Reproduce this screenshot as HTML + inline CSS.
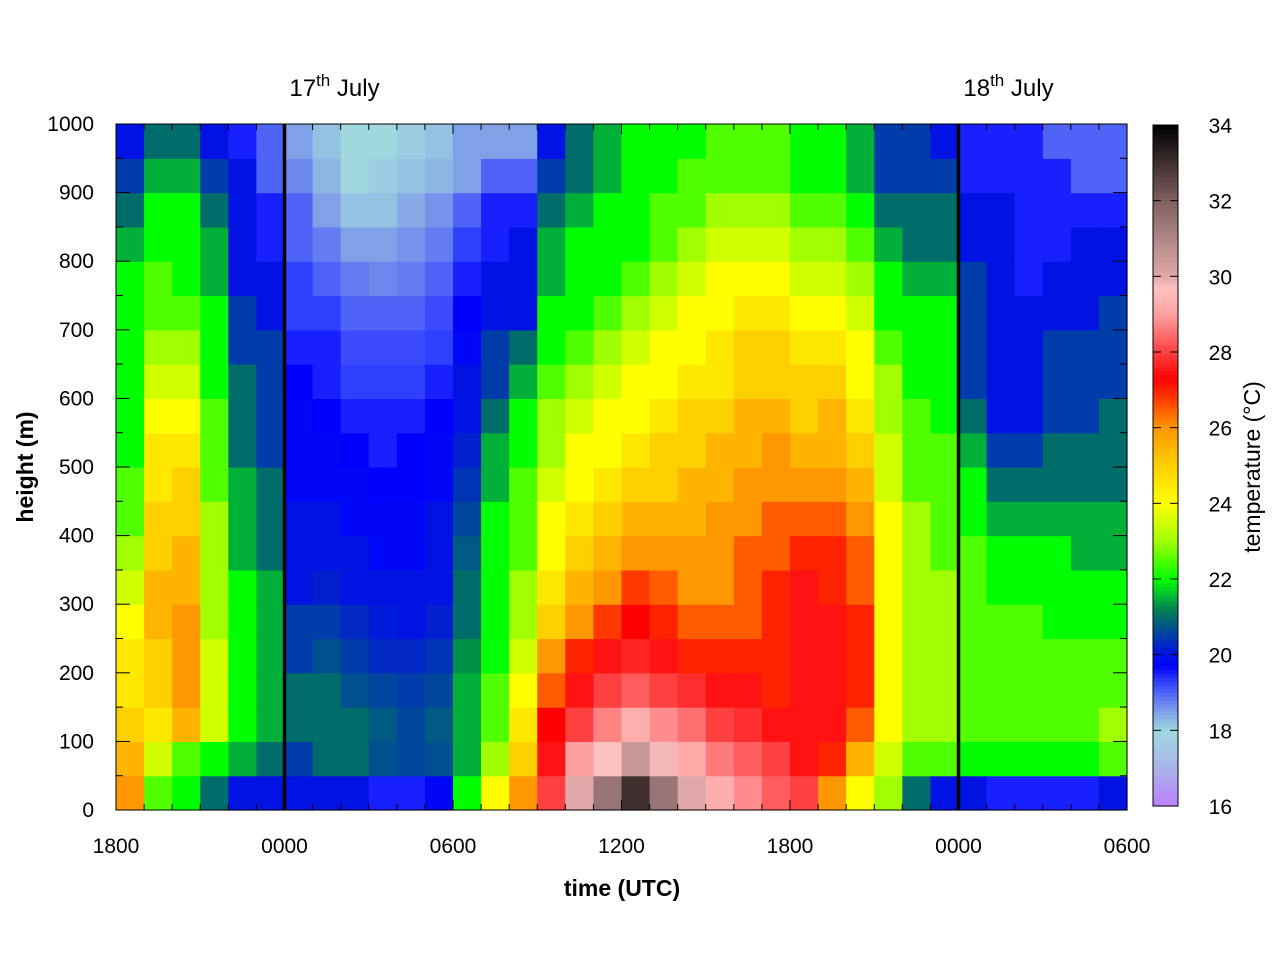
<!DOCTYPE html>
<html><head><meta charset="utf-8"><style>body{margin:0;background:#fff}svg text{font-family:"Liberation Sans",sans-serif}</style></head>
<body>
<svg id="chart" width="1280" height="960" xmlns="http://www.w3.org/2000/svg">
<rect width="1280" height="960" fill="#fff"/>
<g id="cells"></g>
<g id="axes"></g>
</svg>
<script>
const timeLabels=["1800","0000","0600","1200","1800","0000","0600"];
const heightTicks=[0,100,200,300,400,500,600,700,800,900,1000];
const cbarTicks=[16,18,20,22,24,26,28,30,32,34];
const dayLabels=["17","18"];
const dayHours=[6,30];
// temperature profiles per hourly column (from 1800 16 July), heights 25..975 m step 50
const c00=[26,25.5,25,24.5,24.5,24,23.5,23,22.5,22.5,22,22,22,22,22,22,21.5,21,20.5,20];
const c01=[22.5,23.5,24.5,25,25,25.5,25.5,25,25,24.5,24.5,24,23.5,23,22.5,22.5,22,22,21.5,21];
const c02=[22,22.5,25.5,26,26,26,25.5,25.5,25,25,24.5,24,23.5,23,22.5,22,22,22,21.5,21];
const c03=[21,22,23.5,23.5,23.5,23,23,23,23,22.5,22.5,22.5,22,22,22,21.5,21.5,21,20.5,20];
const c04=[20,21.5,22,22,22,22,22,21.5,21.5,21.5,21,21,21,20.5,20.5,20,20,20,20,19.5];
const c05=[20,21,21.5,21.5,21.5,21.5,21.5,21,21,21,20.5,20.5,20.5,20.5,20,20,19.5,19.5,19,19];
const c06=[20,20.5,21,21,20.5,20.5,20,20,20,19.8,19.8,19.8,19.7,19.5,19.3,19.3,19,19,18.7,18.5];
const c07=[20,21,21,21,20.7,20.5,20.2,20,20,19.8,19.8,19.7,19.5,19.5,19.3,19,18.8,18.5,18.3,18.2];
const c08=[20,21,21,20.7,20.5,20.3,20,20,19.8,19.8,19.7,19.5,19.3,19.2,19,18.8,18.5,18.2,18,18];
const c09=[19.5,20.7,20.8,20.6,20.3,20.1,20,19.8,19.8,19.7,19.5,19.5,19.3,19.2,19,18.7,18.5,18.2,18.1,18];
const c10=[19.5,20.6,20.6,20.5,20.3,20,20,19.8,19.8,19.7,19.7,19.5,19.3,19.2,19,18.8,18.6,18.4,18.2,18.1];
const c11=[19.8,20.7,20.8,20.6,20.4,20.2,20,20,20,19.8,19.8,19.7,19.5,19.3,19.2,19,18.8,18.6,18.3,18.2];
const c12=[22,21.5,21.5,21.5,21.3,21,21,20.8,20.6,20.4,20.2,20,20,19.8,19.7,19.5,19.3,19,18.5,18.5];
const c13=[24,23,22.5,22.5,22,22,22,22,22,21.5,21.5,21,20.5,20.5,20,20,19.5,19.5,19,18.5];
const c14=[26,25,24.5,24,23.5,23,23,22.5,22.5,22.5,22,22,21.5,21,20,20,20,19.5,19,18.5];
const c15=[28,27.5,27.3,26.5,26,25,24.5,24,24,23.5,23,23,22.5,22,22,21.5,21.5,21,20.5,20];
const c16=[30,29,28,27.5,27,26,25.5,25,24.5,24,24,23.5,23,22.5,22,22,22,21.5,21,21];
const c17=[31.5,29.7,28.7,28,27.5,26.8,26,25.5,25,24.5,24,24,23.5,23,22.5,22,22,22,21.5,21.5];
const c18=[33,30.5,29.3,28.3,27.7,27.3,26.8,26,25.5,25,24.5,24,24,23.5,23,22.5,22,22,22,22];
const c19=[31.5,29.8,28.8,28,27.5,27,26.5,26,25.5,25,25,24.5,24,24,23.5,23,22.5,22.5,22,22];
const c20=[30,29.2,28.5,27.8,27,26.5,26,26,25.5,25.5,25,25,24.5,24,24,23.5,23,22.5,22.5,22];
const c21=[29.3,28.6,28,27.5,27,26.5,26,26,26,25.5,25.5,25,24.5,24.5,24,24,23.5,23,22.5,22.5];
const c22=[28.8,28.3,27.8,27.5,27,26.5,26.5,26.5,26,26,25.5,25.5,25,25,24.5,24,23.5,23,22.5,22.5];
const c23=[28.3,28,27.5,27,27,27,27,26.5,26.5,26,26,25.5,25,25,24.5,24,23.5,23,22.5,22.5];
const c24=[28,27.5,27.5,27.5,27.5,27.5,27.5,27,26.5,26,25.5,25,25,24.5,24,23.5,23,22.5,22,22];
const c25=[26,27,27.5,27.5,27.5,27.5,27,27,26.5,26,25.5,25.5,25,24.5,24,23.5,23,22.5,22,22];
const c26=[24,25.5,26.5,27,27,27,26.5,26.5,26,25.5,25,24.5,24,24,23.5,23,22.5,22,21.5,21.5];
const c27=[23,23.5,24,24,24,24,24,24,24,23.5,23.5,23,23,22.5,22,22,21.5,21,20.5,20.5];
const c28=[21,22.5,23,23,23,23,23,23,23,22.5,22.5,22.5,22,22,22,21.5,21,21,20.5,20.5];
const c29=[20,22.5,23,23,23,23,23,22.5,22.5,22.5,22.5,22,22,22,22,21.5,21,21,20.5,20];
const c30=[20,22,22.5,22.5,22.5,22.5,22.5,22.5,22,22,21.5,21,20.5,20.5,20.5,20.5,20,20,19.5,19.5];
const c31=[19.5,22,22.5,22.5,22.5,22.5,22,22,21.5,21,20.5,20,20,20,20,20,20,20,19.5,19.5];
const c32=[19.5,22,22.5,22.5,22.5,22.5,22,22,21.5,21,20.5,20,20,20,20,19.5,19.5,19.5,19.5,19.5];
const c33=[19.5,22,22.5,22.5,22.5,22,22,22,21.5,21,21,20.5,20.5,20.5,20,20,19.5,19.5,19.5,19];
const c34=[19.5,22,22.5,22.5,22.5,22,22,21.5,21.5,21,21,20.5,20.5,20.5,20,20,20,19.5,19,19];
const c35=[20,22.5,23,22.5,22.5,22,22,21.5,21.5,21,21,21,20.5,20.5,20.5,20,20,19.5,19,19];
const columns=[c00,c01,c02,c03,c04,c05,c06,c07,c08,c09,c10,c11,c12,c13,c14,c15,c16,c17,c18,c19,c20,c21,c22,c23,c24,c25,c26,c27,c28,c29,c30,c31,c32,c33,c34,c35];

const NS="http://www.w3.org/2000/svg";
const X0=116,X1=1127,Y0=810,Y1=124;
const xs=h=>X0+(X1-X0)*h/36;
const ys=z=>Y0-(Y0-Y1)*z/1000;
const stops=[[16,"#bb80ff"],[17,"#aab4ea"],[18,"#a0d8e0"],[18.5,"#80a0e8"],[19.3,"#3040ff"],[19.7,"#0000ff"],[20.2,"#0020d0"],[20.7,"#005090"],[21.2,"#008050"],[21.6,"#00c030"],[22,"#00ff00"],[23,"#a0ff00"],[24,"#ffff00"],[25,"#ffd000"],[26,"#ff9800"],[26.6,"#ff5000"],[27.3,"#ff0000"],[28,"#ff4040"],[29,"#ffa0a0"],[29.7,"#ffc0c0"],[30,"#e0a8a8"],[31,"#b08888"],[32,"#806060"],[33,"#403030"],[34,"#000000"]];
function hex(c){return [1,3,5].map(i=>parseInt(c.substr(i,2),16));}
function cmap(v){
  if(v<=stops[0][0])return stops[0][1];
  for(let i=1;i<stops.length;i++){if(v<=stops[i][0]){const a=stops[i-1],b=stops[i];const t=(v-a[0])/(b[0]-a[0]);const A=hex(a[1]),B=hex(b[1]);return "rgb("+A.map((x,k)=>Math.round(x+(B[k]-x)*t)).join(",")+")";}}
  return stops[stops.length-1][1];
}
function el(tag,attrs,parent){const e=document.createElementNS(NS,tag);for(const k in attrs)e.setAttribute(k,attrs[k]);parent.appendChild(e);return e;}
const cells=document.getElementById('cells'),axes=document.getElementById('axes');
columns.forEach((col,i)=>{col.forEach((v,j)=>{
  const r=el('rect',{x:xs(i),y:ys(j*50+50),width:xs(i+1)-xs(i)+0.6,height:ys(j*50)-ys(j*50+50)+0.6,fill:cmap(v)},cells);
  
  
});});
dayHours.forEach((h,k)=>{
  const l=el('line',{x1:xs(h),x2:xs(h),y1:Y1,y2:Y0,stroke:"#000","stroke-width":3.5},axes);
  
  
  const t=el('text',{x:xs(h)+50,y:96,"font-size":24,"text-anchor":"middle"},axes);
  
  
  t.innerHTML=dayLabels[k]+'<tspan dy="-10" font-size="17">th</tspan><tspan dy="10"> July</tspan>';
});
const frame=el('rect',{x:X0,y:Y1,width:X1-X0,height:Y0-Y1,fill:"none",stroke:"#000","stroke-width":1},axes);


for(let h=0;h<=36;h++){const x=xs(h);const len=(h%6===0)?10:6;
  el('line',{x1:x,x2:x,y1:Y0,y2:Y0-len,stroke:"#000"},axes);el('line',{x1:x,x2:x,y1:Y1,y2:Y1+len,stroke:"#000"},axes);}
timeLabels.forEach((s,k)=>{const t=el('text',{x:xs(k*6),y:853,"font-size":21,"text-anchor":"middle"},axes);t.textContent=s;
  
  });
for(let z=0;z<=1000;z+=50){const y=ys(z);const len=(z%100===0)?14:7;el('line',{x1:X0,x2:X0+len,y1:y,y2:y,stroke:"#000"},axes);el('line',{x1:X1,x2:X1-len,y1:y,y2:y,stroke:"#000"},axes);}
heightTicks.forEach(z=>{const t=el('text',{x:94,y:ys(z)+7,"font-size":21,"text-anchor":"end"},axes);t.textContent=z;
  
  });
const xt=el('text',{x:622,y:896,"font-size":23,"font-weight":"bold","text-anchor":"middle"},axes);xt.textContent="time (UTC)";


const yt=el('text',{x:0,y:0,"font-size":23,"font-weight":"bold","text-anchor":"middle",transform:"translate(33,467) rotate(-90)"},axes);yt.textContent="height (m)";


const CB0=806,CB1=125,CX=1153,CW=25;
const cb=el('g',{},axes);


for(let k=0;k<180;k++){const v0=16+18*k/180,v1=16+18*(k+1)/180;const y=CB0-(CB0-CB1)*(v1-16)/18;
  el('rect',{x:CX,y:y,width:CW,height:(CB0-CB1)/180+0.6,fill:cmap((v0+v1)/2)},cb);}
el('rect',{x:CX,y:CB1,width:CW,height:CB0-CB1,fill:"none",stroke:"#000"},cb);
cbarTicks.forEach(v=>{const y=CB0-(CB0-CB1)*(v-16)/18;
  el('line',{x1:CX,x2:CX+8,y1:y,y2:y,stroke:"#000"},cb);el('line',{x1:CX+CW,x2:CX+CW-8,y1:y,y2:y,stroke:"#000"},cb);
  const t=el('text',{x:1232,y:y+8,"font-size":21,"text-anchor":"end"},cb);t.textContent=v;
  
  });
const ct=el('text',{x:0,y:0,"font-size":23,"text-anchor":"middle",transform:"translate(1260,467) rotate(-90)"},cb);ct.textContent="temperature (°C)";


</script>
</body></html>
